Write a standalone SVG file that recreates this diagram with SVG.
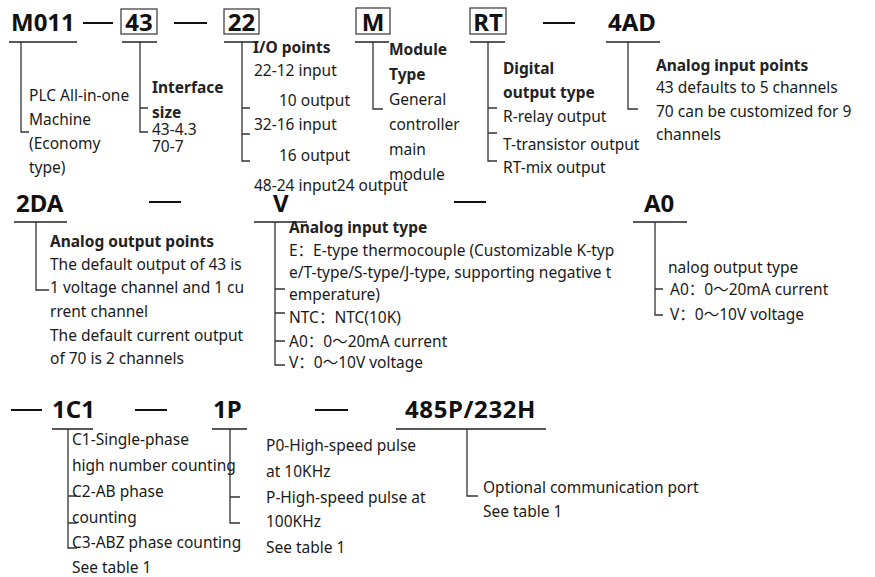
<svg xmlns="http://www.w3.org/2000/svg" width="875" height="577" viewBox="0 0 875 577">
<style>
.code{font-family:"Noto Sans","Liberation Sans","Noto Sans CJK SC",sans-serif;font-weight:bold;font-size:24px;fill:#111}
.h{font-family:"Noto Sans","Liberation Sans","Noto Sans CJK SC",sans-serif;font-weight:bold;font-size:15.5px;fill:#222}
.t{font-family:"Noto Sans","Liberation Sans","Noto Sans CJK SC",sans-serif;font-size:15.5px;fill:#1a1a1a}
.box{fill:none;stroke:#444;stroke-width:1.3}
.ul{stroke:#222;stroke-width:1.5}
.dash{stroke:#111;stroke-width:2}
.conn{fill:none;stroke:#333;stroke-width:1.3}
</style>
<rect width="875" height="577" fill="#fff"/>
<g id="dashes">
<line class="dash" x1="83" y1="23" x2="113" y2="23"/>
<line class="dash" x1="174" y1="23" x2="207" y2="23"/>
<line class="dash" x1="543" y1="23" x2="575" y2="23"/>
<line class="dash" x1="149" y1="202" x2="181" y2="202"/>
<line class="dash" x1="454" y1="202" x2="486" y2="202"/>
<line class="dash" x1="11" y1="410" x2="42" y2="410"/>
<line class="dash" x1="135" y1="410" x2="167" y2="410"/>
<line class="dash" x1="315" y1="410" x2="348" y2="410"/>
</g>
<g id="connectors">
<path class="conn" d="M21,42 V132 H29"/>
<path class="conn" d="M140,42 V132 H148 M140,108 H148"/>
<path class="conn" d="M242,42 V161 H250 M242,108 H250 M242,134 H250"/>
<path class="conn" d="M373,42 V109 H383"/>
<path class="conn" d="M488,42 V161 H497 M488,108 H497 M488,133 H497"/>
<path class="conn" d="M628,42 V109 H638"/>
<path class="conn" d="M36,222 V290 H49"/>
<path class="conn" d="M275,222 V365 H285 M275,289 H285 M275,313 H285 M275,341 H285"/>
<path class="conn" d="M655,222 V315 H663 M655,289 H663"/>
<path class="conn" d="M68,429 V548 H77 M68,496 H77 M68,523 H77"/>
<path class="conn" d="M230,429 V523 H240 M230,497 H240"/>
<path class="conn" d="M467,429 V496 H478"/>
</g>
<g id="n-m011">
<text class="code" x="11" y="31">M011</text>
<line class="ul" x1="9" y1="42" x2="77" y2="42"/>
<text class="t" x="29" y="101">PLC All-in-one</text>
<text class="t" x="29" y="125"> Machine</text>
<text class="t" x="29" y="149">(Economy</text>
<text class="t" x="29" y="173">type)</text>
</g>
<g id="n-43">
<rect class="box" x="121" y="9" width="36" height="25"/>
<text class="code" x="139" y="31" text-anchor="middle">43</text>
<line class="ul" x1="122" y1="42" x2="157" y2="42"/>
<text class="h" x="152" y="93">Interface</text>
<text class="h" x="152" y="118">size</text>
<text class="t" x="152" y="135">43-4.3</text>
<text class="t" x="152" y="152">70-7</text>
</g>
<g id="n-22">
<rect class="box" x="224" y="9" width="35" height="25"/>
<text class="code" x="241.5" y="31" text-anchor="middle">22</text>
<line class="ul" x1="224" y1="42" x2="257" y2="42"/>
<text class="h" x="253" y="53">I/O points</text>
<text class="t" x="254" y="76">22-12 input</text>
<text class="t" x="279" y="106">10 output</text>
<text class="t" x="254" y="130">32-16 input</text>
<text class="t" x="279" y="161">16 output</text>
<text class="t" x="254" y="191">48-24 input24 output</text>
</g>
<g id="n-m">
<rect class="box" x="356" y="8" width="34" height="26"/>
<text class="code" x="373" y="31" text-anchor="middle">M</text>
<line class="ul" x1="355" y1="42" x2="389" y2="42"/>
<text class="h" x="389" y="55">Module</text>
<text class="h" x="389" y="80">Type</text>
<text class="t" x="389" y="105">General</text>
<text class="t" x="389" y="130">controller</text>
<text class="t" x="389" y="155">main</text>
<text class="t" x="389" y="180">module</text>
</g>
<g id="n-rt">
<rect class="box" x="470" y="8" width="36" height="26"/>
<text class="code" x="488" y="31" text-anchor="middle">RT</text>
<line class="ul" x1="470" y1="42" x2="505" y2="42"/>
<text class="h" x="503" y="74">Digital</text>
<text class="h" x="503" y="98">output type</text>
<text class="t" x="503" y="122">R-relay output</text>
<text class="t" x="503" y="150">T-transistor output</text>
<text class="t" x="503" y="173">RT-mix output</text>
</g>
<g id="n-4ad">
<text class="code" x="608" y="31">4AD</text>
<line class="ul" x1="606" y1="42" x2="660" y2="42"/>
<text class="h" x="656" y="71">Analog input points</text>
<text class="t" x="656" y="93">43 defaults to 5 channels</text>
<text class="t" x="656" y="117">70 can be customized for 9</text>
<text class="t" x="656" y="140">channels</text>
</g>
<g id="n-2da">
<text class="code" x="16" y="212">2DA</text>
<line class="ul" x1="14" y1="222" x2="67" y2="222"/>
<text class="h" x="50" y="247">Analog output points</text>
<text class="t" x="50" y="270">The default output of 43 is</text>
<text class="t" x="50" y="293">1 voltage channel and 1 cu</text>
<text class="t" x="50" y="317">rrent channel</text>
<text class="t" x="50" y="341">The default current output</text>
<text class="t" x="50" y="364">of 70 is 2 channels</text>
</g>
<g id="n-v">
<text class="code" x="273" y="212">V</text>
<line class="ul" x1="254" y1="222" x2="307" y2="222"/>
<text class="h" x="289" y="233">Analog input type</text>
<text class="t" x="289" y="256">E：E-type thermocouple (Customizable K-typ</text>
<text class="t" x="289" y="278">e/T-type/S-type/J-type, supporting negative t</text>
<text class="t" x="289" y="300">emperature)</text>
<text class="t" x="289" y="323">NTC：NTC(10K)</text>
<text class="t" x="289" y="347">A0：0～20mA current</text>
<text class="t" x="289" y="368">V：0～10V voltage</text>
</g>
<g id="n-a0">
<text class="code" x="644" y="212">A0</text>
<line class="ul" x1="633" y1="222" x2="687" y2="222"/>
<text class="t" x="668" y="273">nalog output type</text>
<text class="t" x="670" y="295">A0：0～20mA current</text>
<text class="t" x="670" y="320">V：0～10V voltage</text>
</g>
<g id="n-1c1">
<text class="code" x="52" y="418">1C1</text>
<line class="ul" x1="52" y1="429" x2="93" y2="429"/>
<text class="t" x="72" y="445">C1-Single-phase</text>
<text class="t" x="72" y="471">high number counting</text>
<text class="t" x="72" y="497">C2-AB phase</text>
<text class="t" x="72" y="523">counting</text>
<text class="t" x="72" y="548">C3-ABZ phase counting</text>
<text class="t" x="72" y="573">See table 1</text>
</g>
<g id="n-1p">
<text class="code" x="213" y="418">1P</text>
<line class="ul" x1="212" y1="429" x2="247" y2="429"/>
<text class="t" x="266" y="451">P0-High-speed pulse</text>
<text class="t" x="266" y="477">at 10KHz</text>
<text class="t" x="266" y="503">P-High-speed pulse at</text>
<text class="t" x="266" y="527">100KHz</text>
<text class="t" x="266" y="553">See table 1</text>
</g>
<g id="n-485">
<text class="code" x="405" y="418" letter-spacing="0.6">485P/232H</text>
<line class="ul" x1="396" y1="429" x2="546" y2="429"/>
<text class="t" x="483" y="493">Optional communication port</text>
<text class="t" x="483" y="517">See table 1</text>
</g>
</svg>
